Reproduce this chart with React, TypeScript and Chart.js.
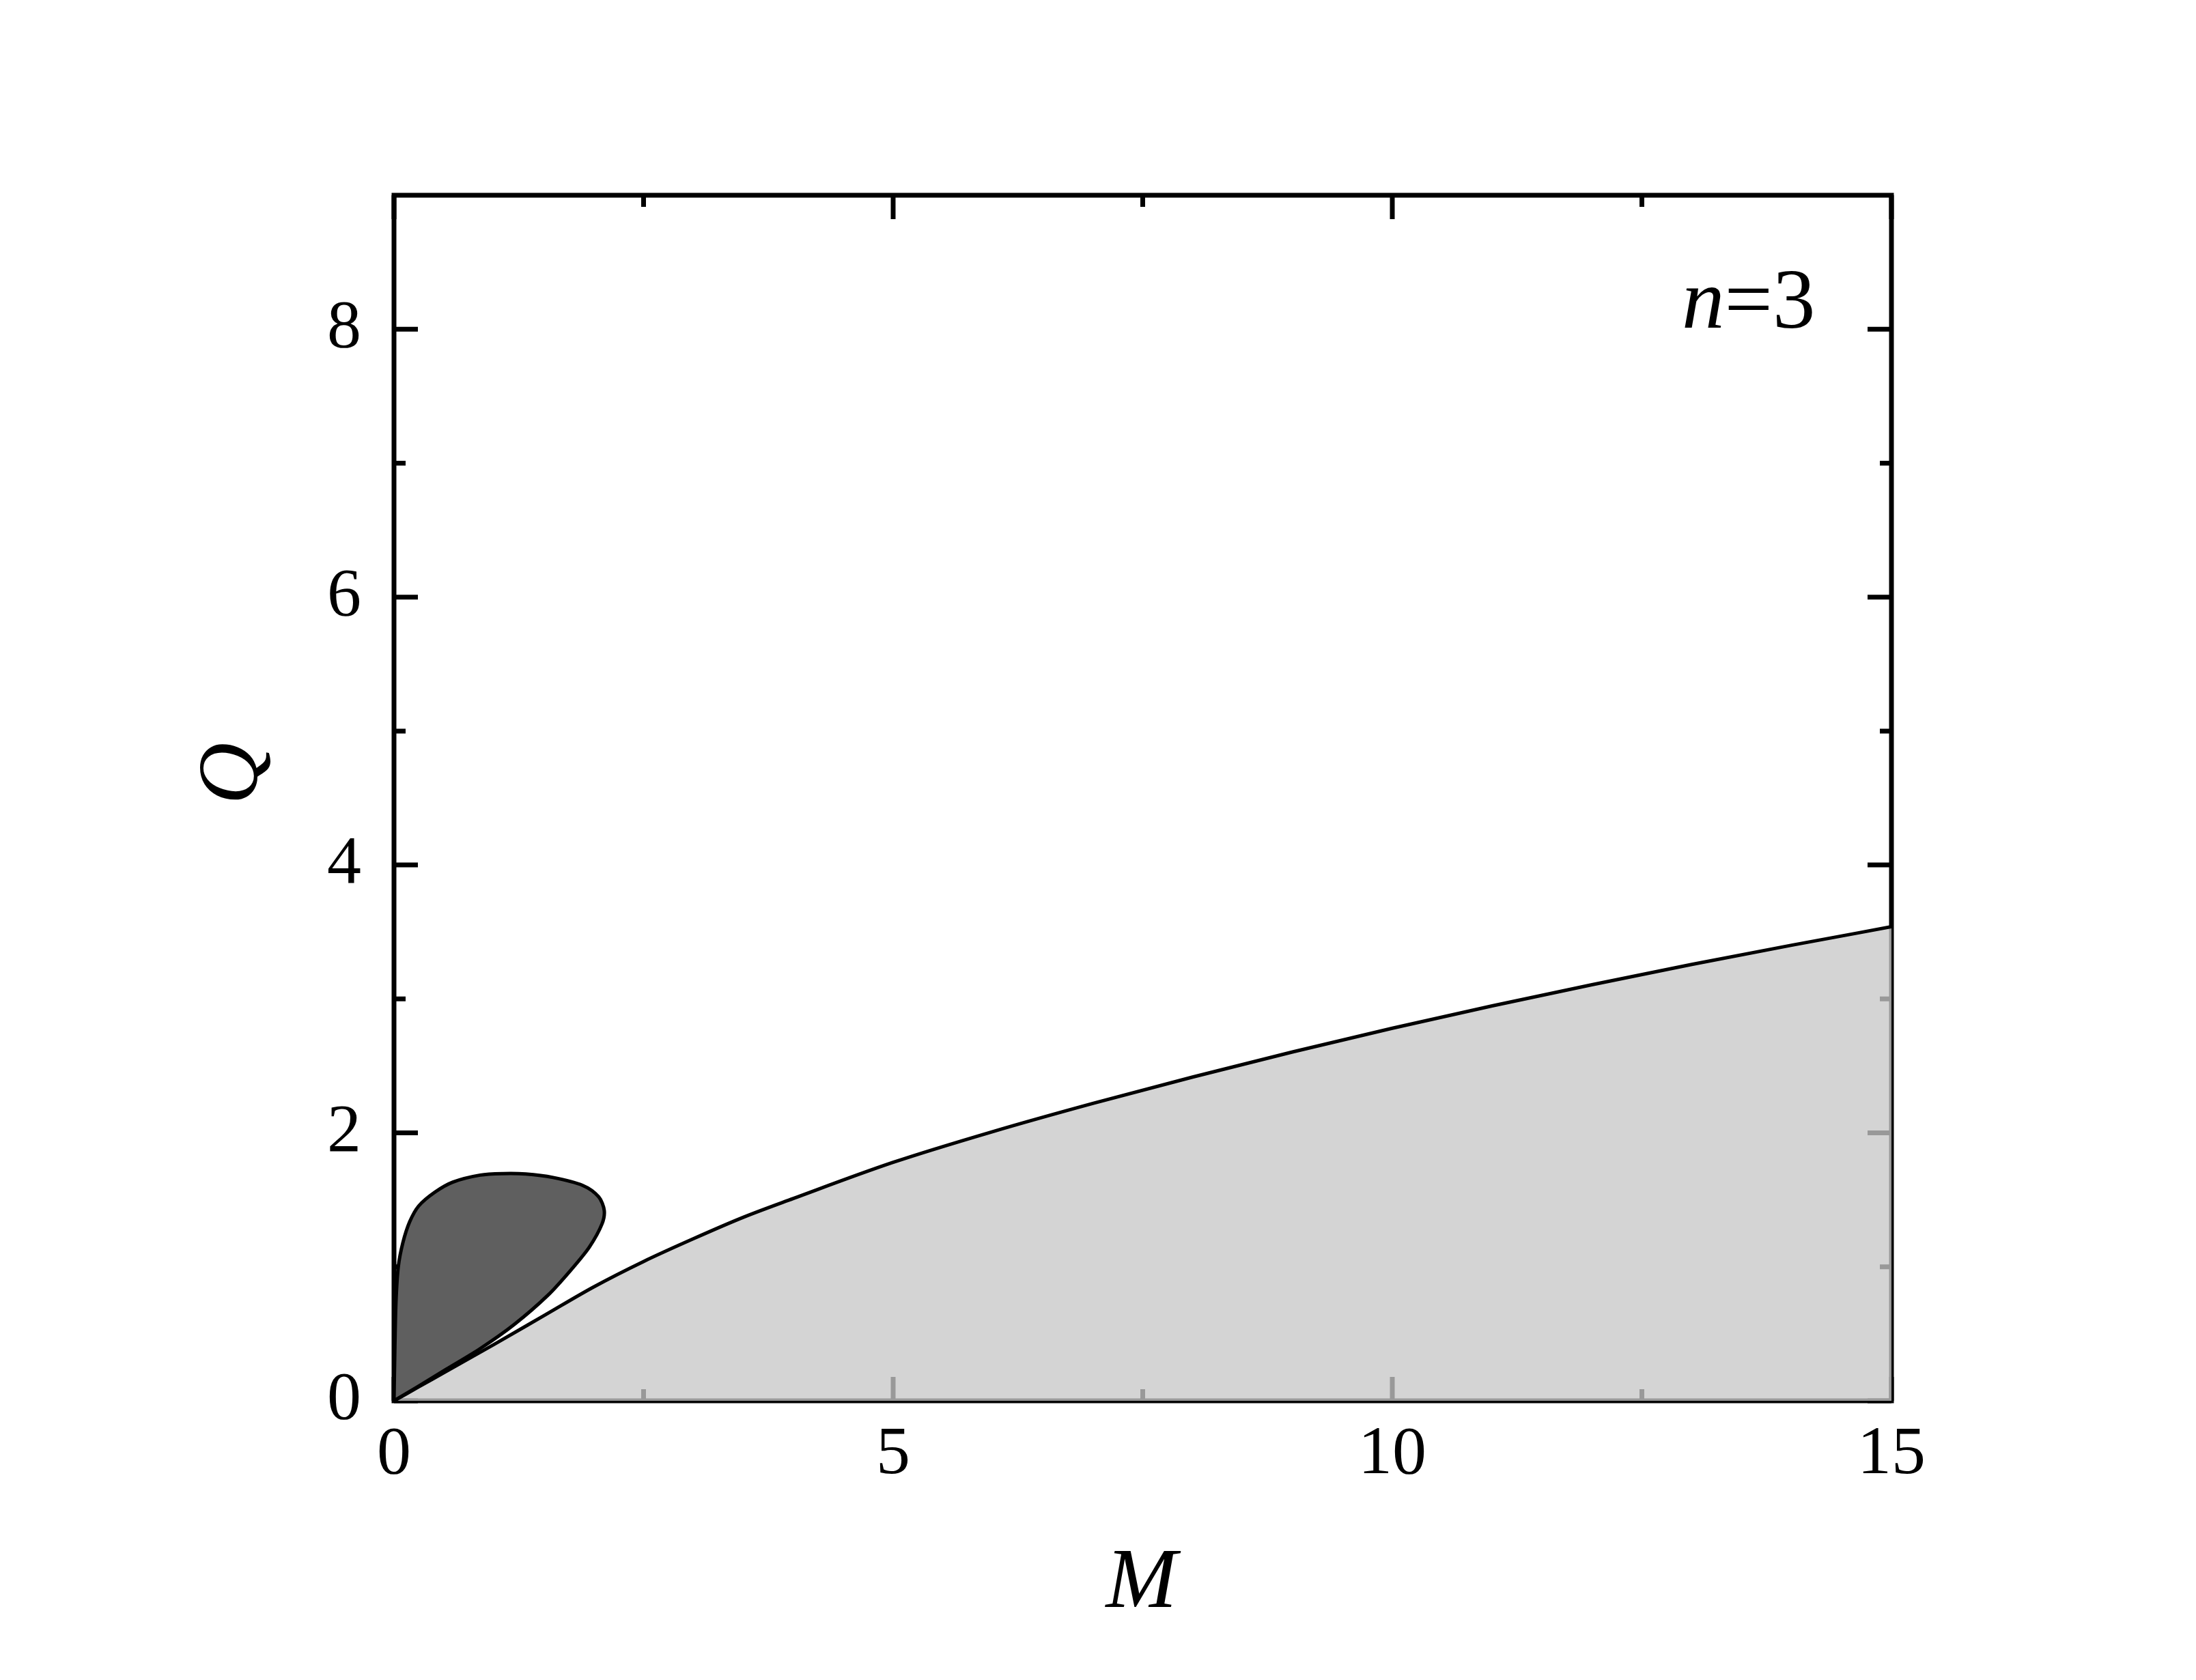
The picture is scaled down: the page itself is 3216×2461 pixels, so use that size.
import React, { useEffect, useRef } from "react";
import { Chart, registerables } from "chart.js";

Chart.register(...registerables);

// Lower boundary Q(M) of the light region
const boundaryM = [0, 0.25, 0.5, 1, 1.5, 2, 2.5, 3, 3.5, 4, 5, 6, 7, 8, 9, 10, 11, 12, 13, 14, 15];
const boundaryQ = [0, 0.105, 0.21, 0.42, 0.635, 0.85, 1.04, 1.21, 1.37, 1.51, 1.78, 2.01, 2.22, 2.417, 2.604, 2.781, 2.948, 3.106, 3.258, 3.401, 3.539];

// Closed loop of the dark region
const loopM = [0, 0.009, 0.02, 0.043, 0.089, 0.157, 0.248, 0.408, 0.59, 0.864, 1.09, 1.32, 1.593, 1.89, 2.05, 2.106, 2.083, 1.958, 1.775, 1.547, 1.206, 0.864, 0.522, 0.226, 0];
const loopQ = [0, 0.4, 0.74, 1.0, 1.18, 1.336, 1.455, 1.557, 1.633, 1.685, 1.696, 1.693, 1.667, 1.608, 1.523, 1.421, 1.319, 1.149, 0.979, 0.792, 0.571, 0.39, 0.235, 0.1, 0];

const xMajor = [0, 5, 10, 15];
const xMinor = [2.5, 7.5, 12.5];
const yMajor = [0, 2, 4, 6, 8];
const yMinor = [1, 3, 5, 7];

const xTitle = "M";
const yTitle = "Q";
const annotationVar = "n";
const annotationRest = "=3";

const SERIF = "\"Liberation Serif\", \"Times New Roman\", Times, serif";

const framePlugin = {
  id: "frameTicks",
  beforeDatasetsDraw(chart: any) {
    const { ctx, chartArea: a, scales } = chart;
    const xs = scales.x;
    const ys = scales.y;
    ctx.save();
    ctx.strokeStyle = "#000";
    ctx.lineWidth = 7;
    ctx.lineJoin = "miter";
    ctx.strokeRect(a.left, a.top, a.right - a.left, a.bottom - a.top);
    ctx.beginPath();
    ctx.lineWidth = 7;
    const xt = (vals: number[], len: number) => {
      vals.forEach((v) => {
        const p = xs.getPixelForValue(v);
        ctx.moveTo(p, a.bottom);
        ctx.lineTo(p, a.bottom - len);
        ctx.moveTo(p, a.top);
        ctx.lineTo(p, a.top + len);
      });
    };
    const yt = (vals: number[], len: number) => {
      vals.forEach((v) => {
        const p = ys.getPixelForValue(v);
        ctx.moveTo(a.left, p);
        ctx.lineTo(a.left + len, p);
        ctx.moveTo(a.right, p);
        ctx.lineTo(a.right - len, p);
      });
    };
    xt(xMajor, 35);
    xt(xMinor, 17);
    yt(yMajor, 35);
    yt(yMinor, 17);
    ctx.stroke();
    ctx.restore();
  },
  afterDraw(chart: any) {
    const { ctx, chartArea: a } = chart;
    ctx.save();
    ctx.fillStyle = "#000";
    // x title
    ctx.font = `italic 125px ${SERIF}`;
    ctx.textAlign = "center";
    ctx.textBaseline = "alphabetic";
    ctx.fillText(xTitle, (a.left + a.right) / 2 - 2, 2346);
    // y title (rotated)
    ctx.save();
    ctx.translate(368, 1125);
    ctx.rotate(-Math.PI / 2);
    ctx.fillText(yTitle, 0, 0);
    ctx.restore();
    // annotation n=3
    ctx.textAlign = "left";
    let x = 2455;
    const yb = 472;
    ctx.font = `italic 125px ${SERIF}`;
    ctx.fillText(annotationVar, x, yb);
    x += ctx.measureText(annotationVar).width;
    ctx.font = `125px ${SERIF}`;
    ctx.fillText(annotationRest, x, yb);
    ctx.restore();
  },
};

export default function App() {
  const ref = useRef<HTMLCanvasElement | null>(null);

  useEffect(() => {
    let chart: Chart | null = null;
    let cancelled = false;

    const build = () => {
      if (cancelled || !ref.current) return;
      const boundary = boundaryM.map((m, i) => ({ x: m, y: boundaryQ[i] }));
      const loop = loopM.map((m, i) => ({ x: m, y: loopQ[i] }));
      chart = new Chart(ref.current, {
        type: "scatter",
        data: {
          datasets: [
            {
              data: loop,
              showLine: true,
              fill: "shape",
              backgroundColor: "#5f5f5f",
              borderColor: "#000",
              borderWidth: 5,
              pointRadius: 0,
              tension: 0.3,
              order: 0,
            } as any,
            {
              data: boundary,
              showLine: true,
              fill: "origin",
              backgroundColor: "rgba(199,199,199,0.77)",
              borderColor: "#000",
              borderWidth: 5,
              pointRadius: 0,
              cubicInterpolationMode: "monotone",
              order: 1,
            } as any,
          ],
        },
        options: {
          animation: false,
          responsive: false,
          maintainAspectRatio: false,
          layout: { padding: { top: 278, right: 438, left: 0, bottom: 0 } },
          plugins: {
            legend: { display: false },
            tooltip: { enabled: false },
            title: { display: false },
          },
          scales: {
            x: {
              type: "linear",
              position: "bottom",
              min: 0,
              max: 15,
              grid: { display: false, drawTicks: false },
              border: { display: false },
              ticks: {
                color: "#000",
                padding: 20,
                font: { family: SERIF, size: 100 },
                maxRotation: 0,
              },
              afterBuildTicks: (s: any) => {
                s.ticks = xMajor.map((v) => ({ value: v }));
              },
              afterFit: (s: any) => {
                s.height = 401;
              },
            },
            y: {
              type: "linear",
              position: "left",
              min: 0,
              max: 9,
              grid: { display: false, drawTicks: false },
              border: { display: false },
              ticks: {
                color: "#000",
                padding: 48,
                font: { family: SERIF, size: 100 },
              },
              afterBuildTicks: (s: any) => {
                s.ticks = yMajor.map((v) => ({ value: v }));
              },
              afterFit: (s: any) => {
                s.width = 569;
              },
            },
          },
        } as any,
        plugins: [framePlugin],
      });
    };

    const fonts: any = (document as any).fonts;
    if (fonts && fonts.load) {
      Promise.all([
        fonts.load(`100px "Liberation Serif"`),
        fonts.load(`italic 125px "Liberation Serif"`),
      ])
        .catch(() => null)
        .then(build);
    } else {
      build();
    }

    return () => {
      cancelled = true;
      if (chart) chart.destroy();
    };
  }, []);

  return (
    <div style={{ width: 3200, height: 2445 }}>
      <canvas ref={ref} width={3200} height={2445} style={{ display: "block", width: 3200, height: 2445 }} />
    </div>
  );
}
